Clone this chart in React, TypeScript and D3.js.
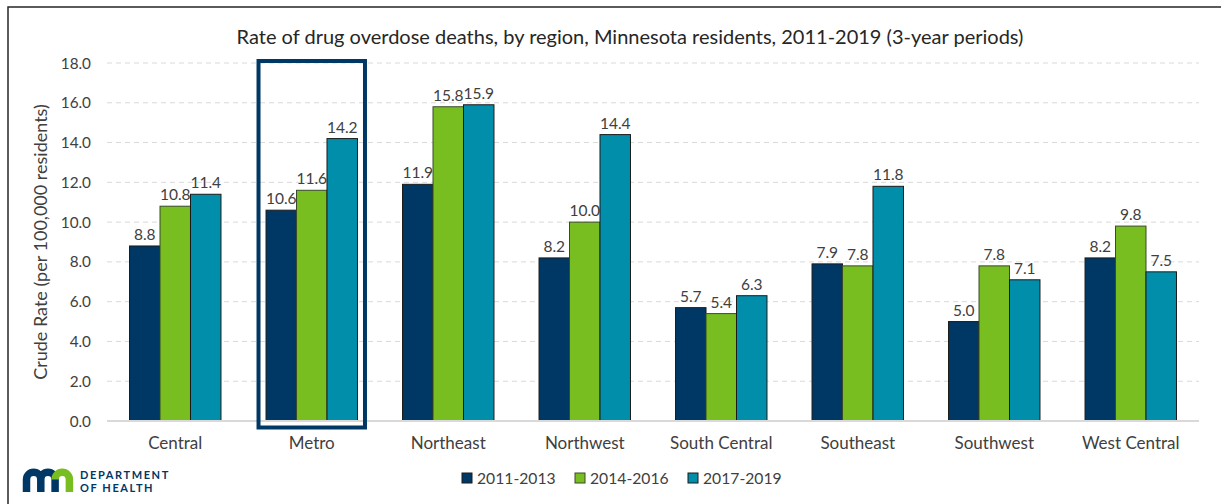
import React from "react";
import * as d3 from "d3";

const categories = ["Central", "Metro", "Northeast", "Northwest", "South Central", "Southeast", "Southwest", "West Central"];
const seriesNames = ["2011-2013", "2014-2016", "2017-2019"];
const values2011 = [8.8, 10.6, 11.9, 8.2, 5.7, 7.9, 5.0, 8.2];
const values2014 = [10.8, 11.6, 15.8, 10.0, 5.4, 7.8, 7.8, 9.8];
const values2017 = [11.4, 14.2, 15.9, 14.4, 6.3, 11.8, 7.1, 7.5];
const yTicks = [0, 2, 4, 6, 8, 10, 12, 14, 16, 18];
const highlighted = "Metro";

const colors = ["#003865", "#78BE21", "#008EAA"];
const strokes = ["#1b1b1b", "#3a4a2a", "#1b1b1b"];
const FONT = "Lato, 'Liberation Sans', sans-serif";
const TXT = "#404040";

export default function App() {
  const W = 1221, H = 504;
  const left = 107, right = 1199, top = 63, bottom = 421;
  const x = d3.scaleBand<string>().domain(categories).range([left, right]).paddingInner(0.33).paddingOuter(0.165);
  const xs = d3.scaleBand<string>().domain(seriesNames).range([0, x.bandwidth()]).padding(0);
  const y = d3.scaleLinear().domain([0, 18]).range([bottom, top]);
  const series = [values2011, values2014, values2017];

  const hx = x(highlighted)!;
  const logoLegs = [26.5, 40.8, 55.1, 69.4];

  return (
    <svg width={W} height={H} style={{ position: "absolute", left: 0, top: 0, background: "#fff" }} fontFamily={FONT}>
      <rect x={8} y={7} width={W + 10} height={H + 10} fill="#fff" stroke="#262626" strokeWidth={1.5} />
      <text x={630} y={44} textAnchor="middle" fontSize={20} fill="#262626">
        Rate of drug overdose deaths, by region, Minnesota residents, 2011-2019 (3-year periods)
      </text>
      {yTicks.filter((t) => t > 0).map((t) => (
        <line key={t} x1={left} x2={right} y1={y(t)} y2={y(t)} stroke="#d9d9d9" strokeWidth={1} strokeDasharray="5,4" />
      ))}
      {yTicks.map((t) => (
        <text key={t} x={91} y={y(t) + 5.5} textAnchor="end" fontSize={15.3} fill={TXT}>
          {t.toFixed(1)}
        </text>
      ))}
      <text transform={`translate(47,${(top + bottom) / 2}) rotate(-90)`} textAnchor="middle" fontSize={18} fill={TXT}>
        Crude Rate (per 100,000 residents)
      </text>
      {categories.map((c, i) => (
        <g key={c}>
          {series.map((vals, s) => {
            const bx = x(c)! + xs(seriesNames[s])!;
            return (
              <g key={s}>
                <rect x={bx} y={y(vals[i])} width={xs.bandwidth()} height={y(0) - y(vals[i])} fill={colors[s]} stroke={strokes[s]} strokeWidth={1} />
                <text x={bx + xs.bandwidth() / 2} y={y(vals[i]) - 6} textAnchor="middle" fontSize={15.5} fill={TXT}>
                  {vals[i].toFixed(1)}
                </text>
              </g>
            );
          })}
          <text x={x(c)! + x.bandwidth() / 2} y={449} textAnchor="middle" fontSize={17} fill={TXT}>
            {c}
          </text>
        </g>
      ))}
      <line x1={left} x2={right} y1={y(0)} y2={y(0)} stroke="#d9d9d9" strokeWidth={2} />
      <rect x={hx - 7.5} y={y(18) - 2} width={x.bandwidth() + 15} height={y(0) - y(18) + 8.5} fill="none" stroke="#003865" strokeWidth={4} />
      {seriesNames.map((n, s) => {
        const lx = 462 + s * 113;
        return (
          <g key={n}>
            <rect x={lx} y={473} width={10} height={10} fill={colors[s]} stroke={strokes[s]} strokeWidth={1} />
            <text x={lx + 15} y={484} fontSize={15.7} fill={TXT}>
              {n}
            </text>
          </g>
        );
      })}
      <g fill="none" strokeWidth={7.5}>
        <path d={`M${logoLegs[0]},492 V479.5 A7.15,7.15 0 0 1 ${logoLegs[1]},479.5 V492 M${logoLegs[1]},479.5 A7.15,7.15 0 0 1 ${logoLegs[2]},479.5 V492`} stroke="#003865" />
        <path d={`M${logoLegs[2]},479.5 A7.15,7.15 0 0 1 ${logoLegs[3]},479.5 V492`} stroke="#78BE21" />
      </g>
      <text x={80} y={479} fontSize={11} fontWeight={700} letterSpacing={1.6} fill="#003865">DEPARTMENT</text>
      <text x={80} y={492} fontSize={11} fontWeight={700} letterSpacing={1.6} fill="#003865">OF HEALTH</text>
    </svg>
  );
}
